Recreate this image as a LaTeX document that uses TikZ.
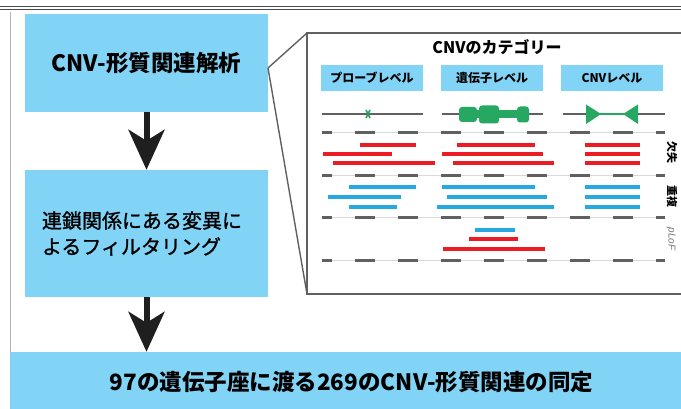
\documentclass[tikz,border=0pt]{standalone}
\usepackage{fontspec}
\setmainfont{Noto Sans CJK JP}
\newfontfamily\jpmed{Noto Sans CJK JP}[FakeBold=1.2]
\newfontfamily\lib{Liberation Sans}
\usetikzlibrary{arrows.meta}
\definecolor{boxblue}{RGB}{130,212,247}
\definecolor{barred}{RGB}{236,28,36}
\definecolor{barblue}{RGB}{38,168,224}
\definecolor{genegreen}{RGB}{38,168,98}
\definecolor{lgray}{RGB}{96,96,96}
\tikzset{
  bluebox/.style={fill=boxblue, draw=none, inner sep=0pt},
  bigarrow/.style={line width=6pt, black!88, -{Stealth[length=40pt,width=36pt,inset=11pt]}},
  panelline/.style={draw=lgray, line width=1.4pt},
  labelbox/.style={fill=boxblue, minimum width=102pt, minimum height=26pt, inner sep=0pt, font=\fontsize{12}{12}\selectfont\bfseries},
  geneline/.style={draw=lgray, line width=2.6pt},
  baseln/.style={draw=black!15, line width=1pt},
  dashln/.style={draw=lgray, line width=3pt, dash pattern=on 20pt off 23pt, dash phase=10pt},
  redbar/.style={draw=barred, line width=4pt},
  bluebar/.style={draw=barblue, line width=4pt},
  sidelab/.style={rotate=-90, font=\fontsize{11}{11}\selectfont\bfseries, inner sep=0pt},
}
\begin{document}
\begin{tikzpicture}[x=1pt,y=-1pt]
\useasboundingbox (0,0) rectangle (681,409);
% top frame lines
\draw[black!70, line width=1pt] (0,7) -- (681,7);
\draw[black!70, line width=1pt] (0,9.6) -- (681,9.6);
\draw[black!30, line width=0.8pt] (10,12) -- (10,352);
% main boxes
\node[bluebox, minimum width=243pt, minimum height=98pt, font=\fontsize{22.5}{22.5}\selectfont\bfseries] (b1) at (146.5,63) {CNV-形質関連解析};
\node[bluebox, minimum width=243pt, minimum height=127pt, text width=209pt, align=left, font=\jpmed\fontsize{20}{26}\selectfont] (b2) at (146.5,233.5) {連鎖関係にある変異に\\よるフィルタリング};
\node[bluebox, minimum width=671pt, minimum height=57pt] (b3) at (345.5,380.5) {};
\node[font=\fontsize{22.5}{22.5}\selectfont\bfseries, inner sep=0pt] (b3t) at (351.5,382) {97の遺伝子座に渡る269のCNV-形質関連の同定};
% arrows
\draw[bigarrow] (b1.south) -- (b2.north);
\draw[bigarrow] (b2.south) -- (b3.north -| b2.south);
% zoom panel
\coordinate (f) at (268,68);
\coordinate (pTL) at (307,33);
\coordinate (pBL) at (307,294);
\coordinate (pTR) at (690,33);
\coordinate (pBR) at (690,294);
\draw[panelline] (f) -- (pTL);
\draw[panelline] (f) -- (pBL);
\draw[panelline, fill=white] (pTR) -- (pTL) -- (pBL) -- (pBR);
\node[font=\fontsize{16}{16}\selectfont\bfseries, inner sep=0pt] (ttl) at (497,47) {CNVのカテゴリー};
\node[labelbox] (l1) at (372,78) {プローブレベル};
\node[labelbox] (l2) at (492,78) {遺伝子レベル};
\node[labelbox] (l3) at (612,78) {CNVレベル};
% gene lines
\draw[geneline] (322,114) -- (423,114);
\draw[geneline] (442,114) -- (543,114);
\draw[geneline] (563,114) -- (665,114);
% probe-level mark
\draw[genegreen, line width=1.6pt] (366,110) -- (370,118);
\draw[genegreen, line width=1.6pt] (370,110) -- (366,118);
% gene-level
\fill[genegreen, rounded corners=3pt] (459,107) rectangle (477,122);
\fill[genegreen] (476,110) rectangle (480,118);
\fill[genegreen, rounded corners=3pt] (479,105.5) rectangle (499,123.5);
\fill[genegreen] (497,110) rectangle (520,118);
\fill[genegreen, rounded corners=3pt] (517,106.5) rectangle (529,122.5);
% CNV-level
\draw[genegreen, line width=2pt] (598,114) -- (626,114);
\fill[genegreen] (586,104.5) -- (601,114) -- (586,124) -- cycle;
\fill[genegreen] (638,104.5) -- (623,114) -- (638,124) -- cycle;
% dashed separators
\foreach \yy in {133,176,218,261}{
  \draw[baseln] (322,\yy) -- (665,\yy);
  \draw[dashln] (322,\yy) -- (665,\yy);
}
% deletions
\draw[redbar] (360,145) -- (416,145);
\draw[redbar] (323,154) -- (392,154);
\draw[redbar] (333,163) -- (435,163);
\draw[redbar] (457,145) -- (535,145);
\draw[redbar] (442,154) -- (543,154);
\draw[redbar] (453,163) -- (554,163);
\draw[redbar] (585,145) -- (640,145);
\draw[redbar] (585,154) -- (640,154);
\draw[redbar] (585,163) -- (640,163);
% duplications
\draw[bluebar] (349,187) -- (416,187);
\draw[bluebar] (328,197) -- (401,197);
\draw[bluebar] (349,207) -- (397,207);
\draw[bluebar] (442,187) -- (535,187);
\draw[bluebar] (447,197) -- (547,197);
\draw[bluebar] (437,207) -- (554,207);
\draw[bluebar] (585,187) -- (640,187);
\draw[bluebar] (585,197) -- (640,197);
\draw[bluebar] (585,207) -- (640,207);
% pLoF
\draw[bluebar] (475,230) -- (515,230);
\draw[redbar] (469,239) -- (518,239);
\draw[redbar] (443,249) -- (545,249);
% side labels
\node[sidelab] (s1) at (672,153) {欠失};
\node[sidelab] (s2) at (672,197) {重複};
\node[sidelab, font=\lib\itshape\fontsize{10}{10}\selectfont, text=black!55] (s3) at (671,239) {pLoF};
\end{tikzpicture}
\end{document}
